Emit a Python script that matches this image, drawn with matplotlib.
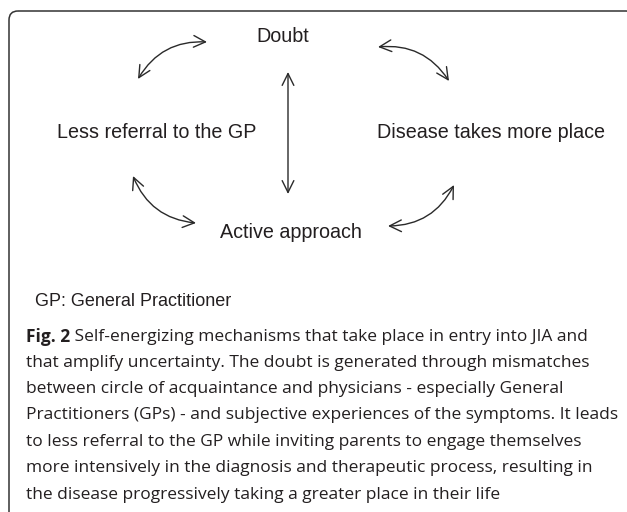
import matplotlib.pyplot as plt
from matplotlib.patches import FancyArrowPatch, FancyBboxPatch

# diagram content
node_labels = ["Doubt", "Less referral to the GP", "Disease takes more place", "Active approach"]
node_xy = [(283, 37), (157, 132), (491, 133), (291, 232)]

# double-headed arrows between nodes (pixel coords, y pointing down) and their bend
arrow_ends = [((138, 79), (207, 42)),
              ((378, 47), (449, 81)),
              ((133, 176), (196, 223)),
              ((388, 226), (454, 185)),
              ((288, 72), (288, 194))]
arrow_bend = [-0.3, -0.3, 0.3, 0.3, 0.0]

footnote = "GP: General Practitioner"
caption_label = "Fig. 2"
caption_lines = [
    " Self-energizing mechanisms that take place in entry into JIA and",
    "that amplify uncertainty. The doubt is generated through mismatches",
    "between circle of acquaintance and physicians - especially General",
    "Practitioners (GPs) - and subjective experiences of the symptoms. It leads",
    "to less referral to the GP while inviting parents to engage themselves",
    "more intensively in the diagnosis and therapeutic process, resulting in",
    "the disease progressively taking a greater place in their life",
]

ink = "#231f20"

fig = plt.figure(figsize=(6.27, 5.12), dpi=100)
ax = fig.add_axes([0, 0, 1, 1])
ax.set_xlim(0, 627)
ax.set_ylim(512, 0)
ax.axis("off")

# frame (only top and left edges are visible)
frame = FancyBboxPatch((9, 11), 626, 560, boxstyle="round,pad=0,rounding_size=9",
                       facecolor="none", edgecolor="#333333", linewidth=1.1)
ax.add_patch(frame)

for label, (x, y) in zip(node_labels, node_xy):
    ax.text(x, y, label, ha="center", va="center", fontsize=14.2,
            family="Liberation Sans", color=ink)

for (p1, p2), rad in zip(arrow_ends, arrow_bend):
    arr = FancyArrowPatch(p1, p2, arrowstyle="<->,head_length=0.85,head_width=0.42",
                          mutation_scale=10, connectionstyle=f"arc3,rad={rad}",
                          shrinkA=0, shrinkB=0, color="#2a2a2a", linewidth=1.0)
    ax.add_patch(arr)

ax.text(35, 302, footnote, ha="left", va="center", fontsize=13,
        family="Liberation Sans", color=ink)

# caption
cap_font = "Open Sans"
cap_size = 12.5
line_y = [337, 363, 389, 415, 442, 468, 495]
renderer = fig.canvas.get_renderer()
t = ax.text(26, line_y[0], caption_label, ha="left", va="center", fontsize=cap_size,
            family=cap_font, fontweight="bold", color=ink)
bb = t.get_window_extent(renderer)
x_after = ax.transData.inverted().transform((bb.x1, bb.y0))[0]
for i, (line, y) in enumerate(zip(caption_lines, line_y)):
    x0 = x_after if i == 0 else 26
    ax.text(x0, y, line, ha="left", va="center", fontsize=cap_size,
            family=cap_font, color=ink)

fig.savefig("out.png", dpi=100)
